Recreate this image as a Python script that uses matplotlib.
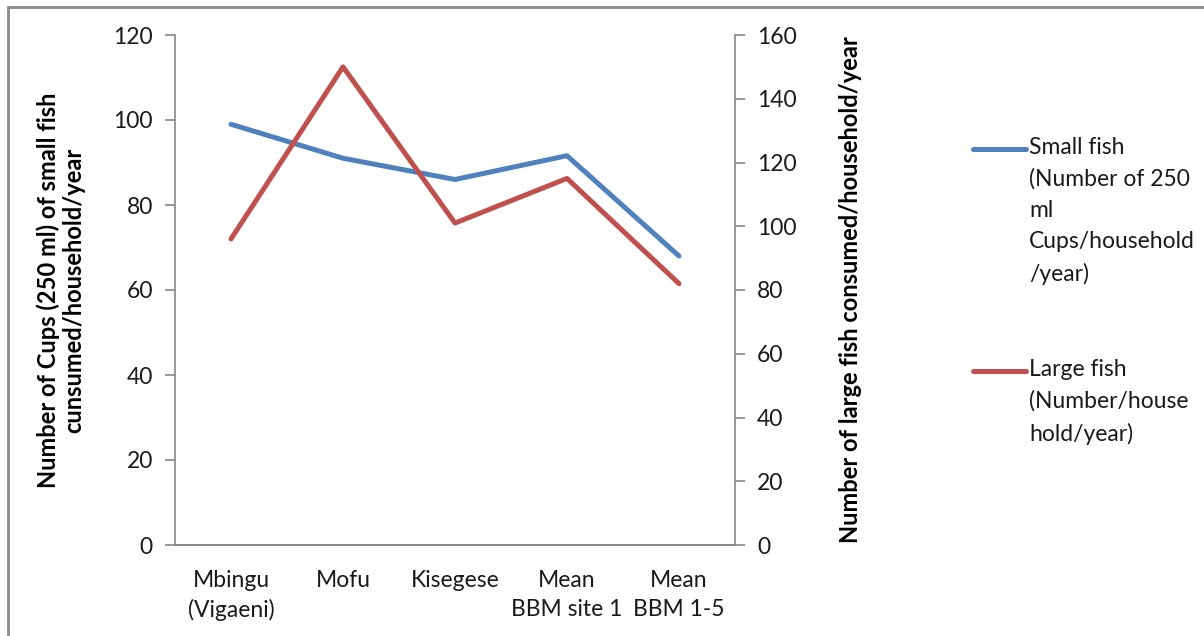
import matplotlib
matplotlib.use('Agg')
import matplotlib.pyplot as plt
from matplotlib.lines import Line2D
from matplotlib.patches import Rectangle

plt.rcParams['font.family'] = ['Lato', 'DejaVu Sans']

sites = ['Mbingu\n(Vigaeni)', 'Mofu', 'Kisegese', 'Mean\nBBM site 1', 'Mean\nBBM 1-5']
small_fish = [99, 91, 86, 91.6, 68]      # 250 ml cups / household / year
large_fish = [96, 150, 101, 115, 82]     # number / household / year

left_ticks = [0, 20, 40, 60, 80, 100, 120]
right_ticks = [0, 20, 40, 60, 80, 100, 120, 140, 160]

blue = '#4F81BD'
red = '#C0504D'
grey = '#868686'
fs = 16.5

W, H = 1204, 636
fig = plt.figure(figsize=(W / 100, H / 100), dpi=100)
ax = fig.add_axes([175 / W, 1 - 545 / H, 560 / W, 510 / H])
ax2 = ax.twinx()

x = list(range(len(sites)))
ax.plot(x, small_fish, color=blue, lw=3.6, solid_capstyle='round', solid_joinstyle='round', zorder=3)
ax2.plot(x, large_fish, color=red, lw=3.6, solid_capstyle='round', solid_joinstyle='round', zorder=3)

ax.set_xlim(-0.5, len(sites) - 0.5)
ax.set_ylim(0, 120)
ax2.set_ylim(0, 160)
ax.set_yticks(left_ticks)
ax2.set_yticks(right_ticks)
ax.set_xticks(x)
ax.set_xticklabels(sites, fontsize=fs, linespacing=1.45)

for a in (ax, ax2):
    for s in a.spines.values():
        s.set_color(grey)
        s.set_linewidth(1.2)
    a.spines['top'].set_visible(False)
    a.tick_params(axis='y', colors=grey, length=7, width=1.2, labelcolor='#1a1a1a',
                  labelsize=fs, pad=9)
ax.spines['right'].set_visible(False)
ax2.spines['left'].set_visible(False)
ax.tick_params(axis='x', length=0, pad=18, labelcolor='#1a1a1a')

ax.set_ylabel('Number of Cups (250 ml) of small fish\ncunsumed/household/year',
              fontsize=17, fontweight='bold', linespacing=1.15, labelpad=20)
ax2.set_ylabel('Number of large fish consumed/household/year',
               fontsize=17, fontweight='bold', labelpad=30)

# legend on the right, key aligned to the first line of each entry
entries = [
    (blue, 'Small fish\n(Number of 250\nml\nCups/household\n/year)', 149),
    (red, 'Large fish\n(Number/house\nhold/year)', 371),
]
for color, label, ypix in entries:
    yf = 1 - ypix / H
    fig.add_artist(Line2D([973 / W, 1026 / W], [yf, yf], color=color, lw=3.6,
                          solid_capstyle='round'))
    fig.text(1029 / W, yf + 12 / H, label, fontsize=fs, va='top', ha='left',
             linespacing=1.6, color='#1a1a1a')

# outer chart frame
fig.add_artist(Rectangle((8 / W, -0.05), 1.2, 1 - 7 / H + 0.05, transform=fig.transFigure,
                         fill=False, edgecolor='#8a8a8a', lw=2))

fig.savefig('out.png', dpi=100)
